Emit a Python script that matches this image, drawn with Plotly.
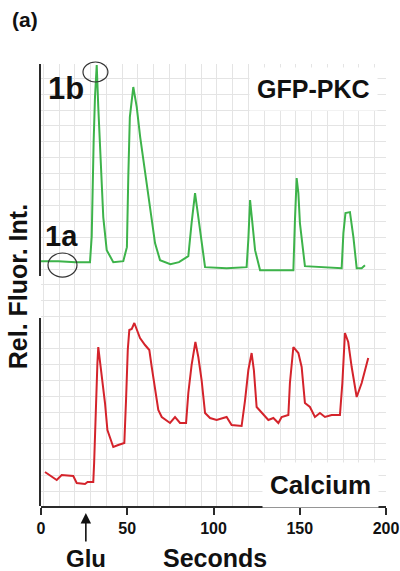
import plotly.graph_objects as go

# GFP-PKC trace (green), relative fluorescence units
gfp_t = [0, 10, 20, 28.4, 29.4, 29.8, 30.5, 31.3, 32.3, 33.2,
         34.2, 36.1, 38.1, 41.9, 47.7, 49.8, 50.6, 51.5, 53.5, 55.5,
         57.5, 60.3, 63.2, 66.1, 69, 75, 80, 85.4, 87.3, 89.3,
         91.2, 93.1, 95.1, 107.6, 119.2, 120.2, 121.2, 122.2, 124.1, 127,
         146.3, 147.2, 148.2, 149.2, 150.1, 153, 174.3, 175.3, 176.5, 179.1,
         181.1, 183, 185.9, 187.8]
gfp_v = [15, 15, 14, 14, 40, 80, 133, 179, 211, 169,
         126, 59, 26, 14, 15, 29, 99, 159, 189, 169,
         139, 103, 69, 33, 16, 12, 14, 20, 53, 83,
         59, 33, 9, 8, 9, 37, 76, 59, 26, 6,
         6, 55, 98, 83, 53, 10, 8, 43, 63, 64,
         39, 8, 8, 11]

# Calcium trace (red)
ca_t = [2.3, 5, 9.1, 12, 18.7, 20.7, 25.5, 27, 30.3,
        30.8, 31.3, 31.9, 32.7, 33.2, 34.2, 35.2, 37.1, 38.5, 40,
        41.9, 44.8, 48.3, 49.3, 50.3, 51.2, 52.6, 54.1, 55.5, 57.4,
        60.3, 62.8, 64.2, 66.1, 68, 70, 74.8, 77.7, 80.6, 84.1,
        85.4, 87.3, 89.5, 91.2, 93.1, 95.1, 98, 101.8, 107.6, 110.5,
        116.3, 118.3, 120.2, 122.1, 123.4, 125, 127.9, 131.8, 134.7, 137.6,
        139.5, 143.4, 144.3, 146.3, 149.2, 151.1, 153, 155.9, 158.8, 161.7,
        164.6, 168.5, 173.3, 174.7, 176.2, 178.1, 180.1, 183, 185.9, 189.7]
ca_v = [34, 31, 26, 31, 30, 23, 22, 24, 24,
        43, 76, 109, 143, 159, 146, 129, 103, 76, 69,
        59, 61, 63, 106, 156, 176, 177, 183, 177, 168,
        161, 156, 139, 116, 96, 89, 83, 89, 83, 83,
        113, 141, 164, 149, 126, 93, 88, 86, 89, 81,
        80, 106, 136, 153, 136, 99, 93, 86, 88, 83,
        89, 91, 123, 159, 153, 139, 103, 99, 89, 93,
        89, 91, 91, 123, 173, 164, 139, 109, 123, 148]

x_ticks = [0, 50, 100, 150, 200]
glu_time = 26

FONT = "Liberation Sans, Arial, sans-serif"
GRID = "#e4e4e4"
AX = "#2a2a2a"

fig = go.Figure()
# background grid subplot (full height)
fig.add_trace(go.Scatter(x=[None], y=[None], xaxis="x", yaxis="y",
                         showlegend=False, hoverinfo="skip"))
fig.add_trace(go.Scatter(x=gfp_t, y=gfp_v, xaxis="x", yaxis="y2", mode="lines",
                         line=dict(color="#3db34a", width=2), showlegend=False))
fig.add_trace(go.Scatter(x=ca_t, y=ca_v, xaxis="x", yaxis="y3", mode="lines",
                         line=dict(color="#d4232b", width=2), showlegend=False))

fig.update_layout(
    width=400, height=571,
    margin=dict(l=41, r=14, t=64, b=65, autoexpand=False),
    paper_bgcolor="white", plot_bgcolor="rgba(0,0,0,0)",
    font=dict(family=FONT, color="#111"),
    xaxis=dict(domain=[0, 1], range=[0, 200], anchor="y", automargin=False,
               showline=True, linecolor=AX, linewidth=1.5,
               ticks="outside", ticklen=7, tickwidth=1.5, tickcolor=AX,
               tickvals=x_ticks, ticktext=[str(v) for v in x_ticks],
               tickfont=dict(size=16, weight="bold", family=FONT, color="#111"),
               showgrid=False, zeroline=False,
               minor=dict(tick0=1.3, dtick=9.15, showgrid=True, gridcolor=GRID,
                          gridwidth=1, ticks="")),
    yaxis=dict(domain=[0, 1], range=[0, 442], showgrid=True, gridcolor=GRID,
               gridwidth=1, tick0=14.4, dtick=15.9, showticklabels=False,
               ticks="", zeroline=False, showline=False, automargin=False),
    yaxis2=dict(domain=[0.52, 1], range=[0, 212], anchor="x", showline=True,
                linecolor=AX, linewidth=1.5, showgrid=False, showticklabels=False,
                ticks="", zeroline=False, automargin=False),
    yaxis3=dict(domain=[0, 0.4253], range=[0, 188], anchor="x", showline=True,
                linecolor=AX, linewidth=1.5, showgrid=False, showticklabels=False,
                ticks="", zeroline=False, automargin=False),
)

bold = lambda s: dict(family=FONT, size=s, color="#111", weight="bold")

ann = [
    dict(text="(a)", xref="paper", yref="paper", x=-0.090, y=1.100,
         xanchor="left", yanchor="middle", showarrow=False, font=bold(21)),
    dict(text="1b", xref="paper", yref="paper", x=0.072, y=0.944,
         xanchor="center", yanchor="middle", showarrow=False, font=bold(31)),
    dict(text="1a", xref="paper", yref="paper", x=0.060, y=0.611,
         xanchor="center", yanchor="middle", showarrow=False, font=bold(29)),
    dict(text="GFP-PKC", xref="paper", yref="paper", x=0.790, y=0.943,
         xanchor="center", yanchor="middle", showarrow=False, font=bold(25),
         bgcolor="white", borderpad=7),
    dict(text="Calcium", xref="paper", yref="paper", x=0.809, y=0.047,
         xanchor="center", yanchor="middle", showarrow=False, font=bold(26),
         bgcolor="white", borderpad=7),
    dict(text="Rel. Fluor. Int.", xref="paper", yref="paper", x=-0.067, y=0.497,
         xanchor="center", yanchor="middle", textangle=-90, showarrow=False,
         font=bold(25)),
    dict(text="Seconds", xref="paper", yref="paper", x=0.504, y=-0.118,
         xanchor="center", yanchor="middle", showarrow=False, font=bold(25)),
    dict(text="Glu", xref="x", yref="paper", x=glu_time, y=-0.118,
         xanchor="center", yanchor="middle", showarrow=False, font=bold(24)),
    dict(text="", xref="x", yref="paper", x=glu_time, y=-0.016,
         ax=0, ay=30, showarrow=True, arrowhead=2, arrowsize=1.3,
         arrowwidth=1.6, arrowcolor="#111"),
]
fig.update_layout(annotations=ann)

circ = dict(color="#333", width=1.2)
fig.add_shape(type="circle", xref="paper", yref="paper",
              x0=0.1217, x1=0.194, y0=0.9593, y1=1.0045, line=circ)
fig.add_shape(type="circle", xref="paper", yref="paper",
              x0=0.0203, x1=0.1043, y0=0.518, y1=0.5724, line=circ)

fig.write_html("out.html")
